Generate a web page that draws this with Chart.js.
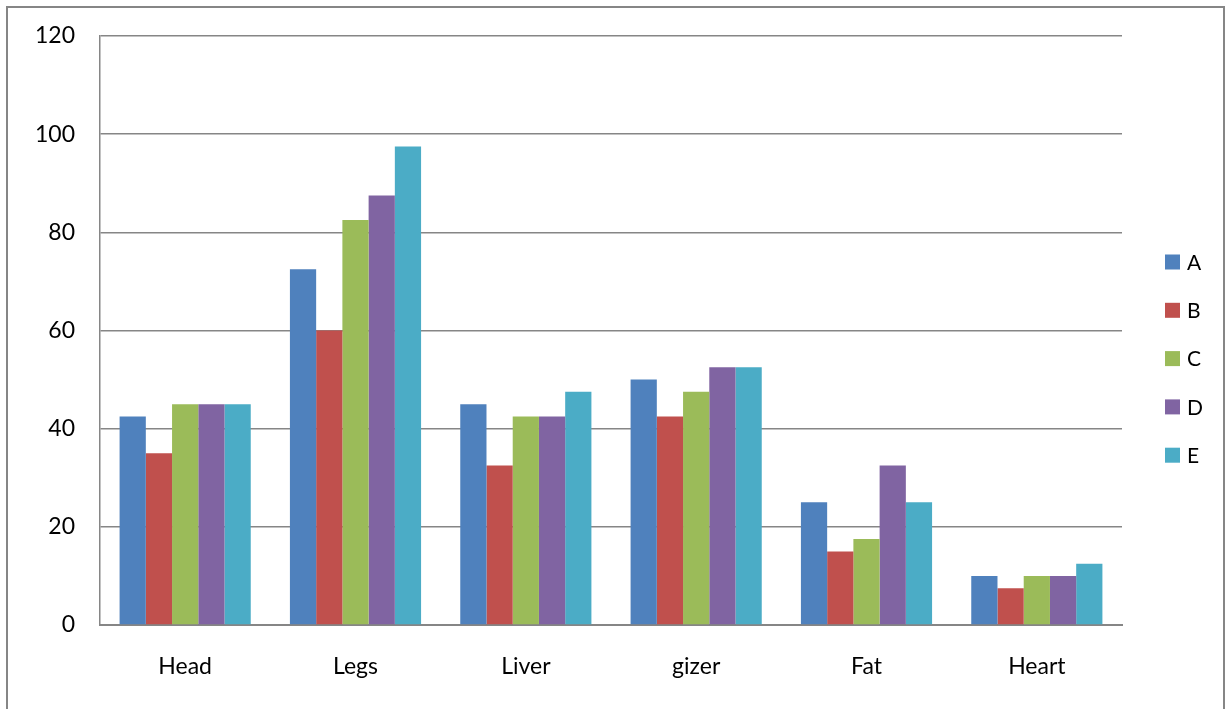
<!DOCTYPE html>
<html>
<head>
<meta charset="utf-8">
<script src="https://cdn.jsdelivr.net/npm/chart.js@4.4.1/dist/chart.umd.min.js"></script>
<style>
  html, body { margin: 0; padding: 0; background: #ffffff; }
  #wrap { width: 1231px; height: 709px; position: relative; }
</style>
</head>
<body>
<div id="wrap"><canvas id="c" width="1231" height="709"></canvas></div>
<script>
// Categories and series values
const categories = ['Head', 'Legs', 'Liver', 'gizer', 'Fat', 'Heart'];
const seriesNames = ['A', 'B', 'C', 'D', 'E'];
const valuesA = [42.5, 72.5, 45, 50, 25, 10];
const valuesB = [35, 60, 32.5, 42.5, 15, 7.5];
const valuesC = [45, 82.5, 42.5, 47.5, 17.5, 10];
const valuesD = [45, 87.5, 42.5, 52.5, 32.5, 10];
const valuesE = [45, 97.5, 47.5, 52.5, 25, 12.5];
const yTicks = [0, 20, 40, 60, 80, 100, 120];

const colors = ['#4F81BD', '#C0504D', '#9BBB59', '#8064A2', '#4BACC6'];
const seriesValues = [valuesA, valuesB, valuesC, valuesD, valuesE];
const FONT = 'Lato, "Open Sans", "Liberation Sans", sans-serif';
const GRID = '#868686';

// Outer frame of the chart
const framePlugin = {
  id: 'frame',
  beforeDraw(chart) {
    const ctx = chart.ctx;
    ctx.save();
    ctx.fillStyle = '#ffffff';
    ctx.fillRect(0, 0, chart.width, chart.height);
    ctx.strokeStyle = GRID;
    ctx.lineWidth = 2;
    ctx.strokeRect(7, 7, chart.width - 14, chart.height + 20);
    ctx.restore();
  }
};

// Legend column on the right
const legendPlugin = {
  id: 'sideLegend',
  afterDraw(chart) {
    const ctx = chart.ctx;
    const boxX = 1165, firstY = 262, rowGap = 48.3, box = 15;
    ctx.save();
    ctx.font = '21px ' + FONT;
    ctx.textBaseline = 'middle';
    ctx.textAlign = 'left';
    chart.data.datasets.forEach((ds, i) => {
      const cy = firstY + i * rowGap;
      ctx.fillStyle = ds.backgroundColor;
      ctx.fillRect(boxX, cy - box / 2, box, box);
      ctx.fillStyle = '#000000';
      ctx.fillText(ds.label, boxX + box + 7, cy + 1);
    });
    ctx.restore();
  }
};

const datasets = seriesNames.map((name, i) => ({
  label: name,
  data: seriesValues[i],
  backgroundColor: colors[i],
  borderWidth: 0,
  categoryPercentage: 0.77,
  barPercentage: 1.0
}));

new Chart(document.getElementById('c'), {
  type: 'bar',
  data: { labels: categories, datasets },
  options: {
    responsive: false,
    animation: false,
    devicePixelRatio: 1,
    layout: { padding: { left: 0, right: 109, top: 30, bottom: 0 } },
    plugins: {
      legend: { display: false },
      tooltip: { enabled: false }
    },
    scales: {
      x: {
        grid: { display: false, drawTicks: false },
        border: { display: true, color: GRID, width: 2 },
        ticks: { color: '#000000', font: { family: FONT, size: 23 }, padding: 28 },
        afterFit(scale) { scale.height = 84; }
      },
      y: {
        min: 0,
        max: 120,
        afterBuildTicks(scale) { scale.ticks = yTicks.map(v => ({ value: v })); },
        grid: { color: GRID, lineWidth: 1.5, drawTicks: false },
        border: { display: true, color: GRID, width: 1.5 },
        ticks: { color: '#000000', font: { family: FONT, size: 23, lineHeight: 0.96 }, padding: 25 },
        afterFit(scale) { scale.width = 100; }
      }
    }
  },
  plugins: [framePlugin, legendPlugin]
});
</script>
</body>
</html>
